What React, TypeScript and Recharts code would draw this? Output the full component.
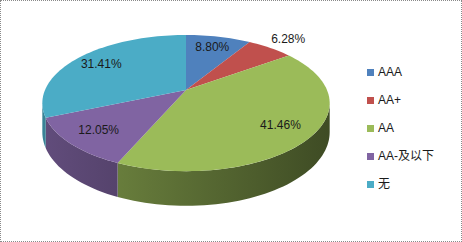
import { PieChart, Pie, Legend } from "recharts";

const CATEGORIES = ["AAA", "AA+", "AA", "AA-及以下", "无"];
const SHARES = [8.8, 6.28, 41.46, 12.05, 31.41];
const COLORS = ["#4F81BD", "#C0504D", "#9BBB59", "#8064A2", "#4BACC6"];

const data = CATEGORIES.map((name, i) => ({ name, value: SHARES[i], fill: COLORS[i] }));

// viewing setup for the tilted disc
const DIST = 5.2; // camera distance, in radii
const TILT = 0.465; // vertical / horizontal radius
const THICK = 28; // side height at the centre line
const EDGE = (Math.asin(1 / DIST) * 180) / Math.PI; // where the rim turns away
const FONT = '"Liberation Sans", Arial, "Noto Sans CJK SC", sans-serif';

function project(cx: number, cy: number, r: number, deg: number, k = 1) {
  const a = (deg * Math.PI) / 180;
  const u = Math.cos(a) * k;
  const v = -Math.sin(a) * k;
  const f = DIST / (DIST - v);
  return { x: cx + r * u * f, y: cy + r * TILT * v * f, f };
}

function arc(cx: number, cy: number, r: number, from: number, to: number) {
  const n = Math.max(1, Math.ceil(Math.abs(to - from) / 2));
  const pts = [];
  for (let i = 0; i <= n; i++) pts.push(project(cx, cy, r, from + ((to - from) * i) / n));
  return pts;
}

function shade(hex: string, k: number) {
  const n = parseInt(hex.slice(1), 16);
  const c = [(n >> 16) & 255, (n >> 8) & 255, n & 255].map((v) => Math.round(v * k));
  return `rgb(${c[0]},${c[1]},${c[2]})`;
}

function Slice(props: any) {
  const { cx, cy, outerRadius, startAngle, endAngle } = props;
  const name = props.payload?.name ?? props.name;
  const idx = Math.max(0, CATEGORIES.indexOf(name));
  const fill = COLORS[idx];

  const rim = arc(cx, cy, outerRadius, startAngle, endAngle);
  const topPath = `M${cx},${cy} ` + rim.map((p) => `L${p.x},${p.y}`).join(" ") + " Z";

  // only the near part of the rim shows a side
  const hi = Math.min(Math.max(startAngle, endAngle), -EDGE);
  const lo = Math.max(Math.min(startAngle, endAngle), -180 + EDGE);
  let wallPath = "";
  if (hi > lo) {
    const upper = arc(cx, cy, outerRadius, hi, lo);
    const lower = upper
      .slice()
      .reverse()
      .map((p) => ({ x: p.x, y: p.y + THICK * p.f }));
    wallPath =
      `M${upper[0].x},${upper[0].y} ` +
      upper.map((p) => `L${p.x},${p.y}`).join(" ") +
      " " +
      lower.map((p) => `L${p.x},${p.y}`).join(" ") +
      " Z";
  }
  const gid = `side-${idx}`;

  return (
    <g>
      {wallPath && (
        <>
          <defs>
            <linearGradient id={gid} gradientUnits="userSpaceOnUse" x1={44} y1={0} x2={330} y2={0}>
              <stop offset="0" stopColor={shade(fill, 0.76)} />
              <stop offset="1" stopColor={shade(fill, 0.4)} />
            </linearGradient>
          </defs>
          <path d={wallPath} fill={`url(#${gid})`} />
        </>
      )}
      <path d={topPath} fill={fill} />
    </g>
  );
}

const renderLabel = (props: any) => {
  const { cx, cy, outerRadius, midAngle, percent, value } = props;
  const k = percent < 0.07 ? 1.25 : 0.78;
  const p = project(cx, cy, outerRadius, midAngle, k);
  return (
    <text
      x={p.x}
      y={p.y}
      textAnchor="middle"
      dominantBaseline="central"
      fontSize={12}
      fontFamily={FONT}
      fill="#1a1a1a"
    >
      {`${Number(value).toFixed(2)}%`}
    </text>
  );
};

export default function App() {
  return (
    <div
      style={{
        position: "absolute",
        left: 0,
        top: 0,
        width: 462,
        height: 242,
        boxSizing: "border-box",
        border: "1px dotted #8a8a8a",
        background: "#fff",
      }}
    >
      <PieChart width={460} height={240} margin={{ top: 0, right: 0, bottom: 0, left: 0 }}>
        <Pie
          data={data}
          dataKey="value"
          nameKey="name"
          cx={185}
          cy={89}
          outerRadius={141}
          startAngle={90}
          endAngle={-270}
          stroke="none"
          legendType="square"
          label={renderLabel}
          labelLine={false}
          shape={Slice}
          activeShape={Slice}
          isAnimationActive={false}
        />
        <Legend
          layout="vertical"
          align="right"
          verticalAlign="top"
          iconType="square"
          iconSize={7}
          itemSorter={(item: any) => CATEGORIES.indexOf(item.value)}
          formatter={(value) => <span style={{ color: "#1a1a1a" }}>{value}</span>}
          wrapperStyle={{
            left: 366,
            top: 57,
            width: 90,
            lineHeight: "28px",
            fontSize: 12,
            fontFamily: FONT,
          }}
        />
      </PieChart>
    </div>
  );
}
